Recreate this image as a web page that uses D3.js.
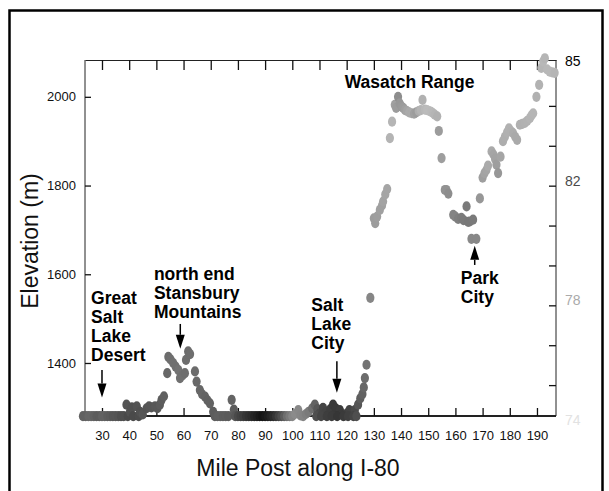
<!DOCTYPE html>
<html>
<head>
<meta charset="utf-8">
<script src="https://cdn.jsdelivr.net/npm/d3@7"></script>
<style>
  body { margin: 0; background: #fff; }
  svg text { font-family: "Liberation Sans", Arial, Helvetica, sans-serif; }
</style>
</head>
<body>
<div id="chart"></div>
<script>
// Mile post, elevation (m) and temperature (F) of each reading along I-80
var mileposts = [
    23, 24, 25, 26, 27, 28, 29, 30, 31, 32, 33, 34, 35, 36, 37, 38,
    39, 39.5, 40.3, 41, 41.5, 42.8, 43.5, 44, 45, 46.4, 47.3, 48.2, 49.5, 50.4, 51.3, 51.9, 52.8,
    54, 54.4, 55.2, 56.2, 57.1, 58.1, 58.7, 59.6, 60.5, 60.9, 61.7, 62.4, 64.2, 64.8, 66, 66.8, 67.9, 68.8, 69.7, 70.9,
    71.5, 72.5, 73.5, 74.5, 75.5, 76.5, 77.7, 78.5, 79, 80, 81, 82, 83, 84, 85, 86, 87, 88, 89,
    90, 91, 92, 93, 94, 95, 96, 97, 98, 99, 100,
    101, 102.2, 103, 104, 105, 106, 107.3, 108.3, 109.2, 110, 111.3, 112.2, 113, 114, 115, 116,
    117.5, 118.3, 119.2, 120, 121, 122, 123, 124.2,
    108.8, 110.6, 112.7, 114.5, 116.5, 118.8, 120.5, 122.5, 123.6,
    125, 125.8, 126.3, 126.7, 127.3, 128.7,
    130, 130.5, 131.2, 132.2, 133, 133.4, 134.2, 134.9, 135.9, 136.7, 137.7, 138.2, 138.9, 139.5,
    140.2, 140.8, 141.5, 142.2, 143, 143.9, 144.8, 145.6, 146.5, 147.3, 147.9, 148.8, 149.6,
    150.4, 151.1, 151.8, 152.4, 153.3, 153.9, 154.9, 156.1, 156.7, 157.4, 159.2,
    160, 161, 162.2, 163, 164.1, 164.7, 165.3, 166.5, 165.9, 167.7, 169,
    170, 170.7, 171.4, 172, 173.3, 174, 174.6, 175.1, 175.7, 176.6, 177.5, 178.2, 179, 179.7,
    180.5, 181.2, 182, 182.7, 183.7, 184.6, 185.5, 186.4, 187.4, 188, 188.6, 189.8,
    190.8, 191.6, 192.3, 192.9, 193.7, 194.7, 195.6, 196.5
];

var elevations = [
    1280, 1280, 1280, 1280, 1280, 1280, 1280, 1280, 1280, 1280, 1280, 1280, 1280, 1280, 1280, 1280,
    1306, 1280, 1290, 1300, 1280, 1302, 1280, 1290, 1284, 1298, 1302, 1300, 1302, 1298, 1306, 1317, 1325,
    1377, 1414, 1408, 1400, 1392, 1384, 1366, 1372, 1377, 1407, 1426, 1420, 1381, 1358, 1339, 1330, 1324, 1316, 1309, 1290,
    1280, 1280, 1280, 1280, 1280, 1280, 1317, 1295, 1280, 1280, 1280, 1280, 1280, 1280, 1280, 1280, 1280, 1280, 1280,
    1280, 1280, 1280, 1280, 1280, 1280, 1280, 1280, 1280, 1280, 1280,
    1285, 1294, 1282, 1280, 1285, 1290, 1298, 1306, 1296, 1286, 1299, 1288, 1282, 1296, 1306, 1298,
    1294, 1284, 1282, 1286, 1294, 1288, 1294, 1306,
    1280, 1280, 1280, 1280, 1280, 1280, 1280, 1280, 1280,
    1320, 1330, 1345, 1366, 1396, 1547,
    1726, 1715, 1730, 1745, 1755, 1764, 1780, 1792, 1907, 1944, 1982, 1975, 2000, 1985,
    1978, 1975, 1970, 1968, 1965, 1963, 1962, 1965, 1968, 1970, 1993, 1971, 1970,
    1968, 1966, 1963, 1960, 1956, 1923, 1862, 1790, 1790, 1782, 1734,
    1730, 1725, 1727, 1722, 1753, 1718, 1719, 1723, 1680, 1680, 1771,
    1818, 1828, 1835, 1845, 1877, 1870, 1860, 1847, 1828, 1865, 1900, 1910, 1920, 1929,
    1922, 1918, 1910, 1903, 1937, 1939, 1941, 1946, 1952, 1958, 1963, 2000,
    2027, 2065, 2080, 2087, 2062, 2057, 2055, 2054
];

var temperatures = [
    81.0, 81.0, 80.8, 80.8, 81.0, 81.2, 81.2, 81.0, 81.0, 81.2, 81.3, 81.5, 81.5, 81.6, 81.8, 81.8,
    81.6, 82.0, 81.7, 81.7, 82.0, 81.6, 81.9, 81.7, 81.5, 81.6, 81.5, 81.5, 81.4, 81.4, 81.3, 81.2, 81.1,
    80.8, 80.6, 80.5, 80.4, 80.4, 80.3, 80.4, 80.4, 80.5, 80.5, 80.6, 80.5, 80.6, 80.7, 80.8, 80.8, 80.9, 81.0, 81.0, 81.2,
    81.2, 81.1, 81.1, 81.2, 81.2, 81.3, 80.9, 81.2, 81.5, 82.0, 82.3, 82.5, 82.8, 83.0, 83.2, 83.5, 83.7, 84.0, 84.2,
    84.0, 83.8, 83.5, 83.2, 82.8, 82.3, 81.8, 81.2, 80.5, 80.0, 79.5,
    79.3, 79.4, 79.5, 79.6, 79.8, 80.0, 80.5, 81.0, 81.5, 82.0, 82.2, 82.3, 82.5, 82.5, 82.7, 82.7,
    82.6, 82.6, 82.5, 82.4, 82.3, 82.2, 82.0, 81.5,
    81.8, 82.2, 82.5, 82.6, 82.8, 82.6, 82.4, 82.2, 81.8,
    81.2, 81.0, 80.8, 80.6, 80.3, 79.5,
    78.6, 78.6, 78.5, 78.4, 78.4, 78.3, 78.2, 78.2, 77.3, 77.2, 78.4, 78.6, 79.2, 78.8,
    78.7, 78.6, 78.4, 78.2, 78.0, 78.0, 78.4, 78.6, 77.8, 77.3, 77.5, 77.0, 76.8,
    76.8, 76.9, 77.0, 77.2, 77.5, 78.6, 78.5, 79.0, 79.0, 79.2, 79.6,
    79.6, 79.8, 79.9, 80.0, 80.0, 80.1, 80.1, 80.0, 79.4, 79.4, 78.8,
    78.5, 78.3, 78.2, 78.0, 78.0, 78.2, 78.3, 78.5, 78.8, 78.2, 77.8, 77.7, 77.6, 77.5,
    77.6, 77.8, 78.0, 78.0, 77.6, 77.6, 77.5, 77.4, 77.3, 77.3, 77.2, 77.5,
    77.4, 77.2, 77.0, 77.2, 77.0, 77.0, 77.0, 77.2
];

// Axis ticks
var mileTicks = [30, 40, 50, 60, 70, 80, 90, 100, 110, 120, 130, 140, 150, 160, 170, 180, 190];
var elevationTicks = [1400, 1600, 1800, 2000];
var tempLabels = [74, 78, 82, 85];   // colour key on the right, every third tick

// Place names: text lines, position (mile, elevation) of first baseline
var placeNames = [
    { lines: ['Great', 'Salt', 'Lake', 'Desert'], mile: 26, elev: 1533 },
    { lines: ['north end', 'Stansbury', 'Mountains'], mile: 49.1, elev: 1587 },
    { lines: ['Salt', 'Lake', 'City'], mile: 107, elev: 1518 },
    { lines: ['Park', 'City'], mile: 162, elev: 1578 },
    { lines: ['Wasatch Range'], mile: 119.3, elev: 2020 }
];

// Arrows: from (mile, elev) to tip (mile, elev2)
var arrows = [
    { mile: 30, elev: 1384, elev2: 1322 },
    { mile: 58.8, elev: 1488, elev2: 1432 },
    { mile: 116.4, elev: 1404, elev2: 1333 },
    { mile: 167.1, elev: 1621, elev2: 1664 }
];

var width = 609, height = 491;
var plotLeft = 85, plotRight = 556, plotTop = 60, plotBottom = 416;

var svg = d3.select('#chart')
    .append('svg')
    .attr('width', width)
    .attr('height', height);

// outer frame
svg.append('rect')
    .attr('x', 9.5).attr('y', 10.5)
    .attr('width', 593).attr('height', 500)
    .attr('fill', 'none')
    .attr('stroke', '#000')
    .attr('stroke-width', 2.5);

var x = d3.scaleLinear().domain([23.75, 197]).range([plotLeft, plotRight]);
var y = d3.scaleLinear().domain([1280.5, 2083]).range([plotBottom, plotTop]);

// grey level stands for temperature, hot = dark
var color = d3.scaleLinear()
    .domain([74, 78, 82, 85])
    .range(['#e2e2e2', '#aaaaaa', '#4a4a4a', '#000000']);

// right hand key has 10 evenly spaced ticks
var keyScale = d3.scaleLinear().domain([0, 9]).range([425, 66]);

function styleAxis(g, w) {
    g.select('.domain').attr('stroke', '#222').attr('stroke-width', w);
    g.selectAll('.tick line').attr('stroke', '#111').attr('stroke-width', 1.3);
    g.selectAll('.tick text').attr('fill', '#111')
        .style('font-family', '"Liberation Sans", Arial, sans-serif');
}

// top axis, only ticks
svg.append('g')
    .attr('transform', 'translate(0,' + plotTop + ')')
    .call(d3.axisTop(x).tickValues(mileTicks).tickSizeInner(-10).tickSizeOuter(0).tickFormat(''))
    .call(styleAxis, 1);

// right axis, only ticks
svg.append('g')
    .attr('transform', 'translate(' + plotRight + ',0)')
    .call(d3.axisRight(keyScale).tickValues([1, 2, 3, 4, 5, 6, 7, 8]).tickSizeInner(-7).tickSizeOuter(0).tickFormat(''))
    .call(styleAxis, 1)
    .select('.domain').attr('d', 'M0,' + plotTop + 'V' + plotBottom);

svg.selectAll('.keyLabel')
    .data(tempLabels)
    .enter().append('text')
    .attr('class', 'keyLabel')
    .attr('x', plotRight + 9)
    .attr('y', function(d, i) { return keyScale(i * 3) - 5; })
    .attr('dy', '0.35em')
    .attr('font-size', 14)
    .attr('fill', function(d) { return color(d); })
    .text(function(d) { return d; });

// left axis
svg.append('g')
    .attr('transform', 'translate(' + plotLeft + ',0)')
    .call(d3.axisLeft(y).tickValues(elevationTicks).tickSizeInner(-6).tickSizeOuter(0).tickPadding(9).tickFormat(d3.format('d')))
    .call(styleAxis, 1)
    .call(function(g) {
        g.select('.domain').attr('d', 'M0,' + plotTop + 'V' + plotBottom);
        g.selectAll('.tick text').attr('font-size', 13);
    });

// bottom axis
svg.append('g')
    .attr('transform', 'translate(0,' + plotBottom + ')')
    .call(d3.axisBottom(x).tickValues(mileTicks).tickSizeInner(-8).tickSizeOuter(0).tickPadding(15))
    .call(styleAxis, 2.2)
    .call(function(g) {
        g.select('.domain').attr('d', 'M' + plotLeft + ',0H' + plotRight);
        g.selectAll('.tick text').attr('font-size', 13);
    });

// axis titles
svg.append('text')
    .attr('x', 298).attr('y', 476)
    .attr('text-anchor', 'middle')
    .attr('font-size', 23)
    .attr('fill', '#111')
    .text('Mile Post along I-80');

svg.append('text')
    .attr('transform', 'translate(38,241) rotate(-90)')
    .attr('text-anchor', 'middle')
    .attr('font-size', 23)
    .attr('fill', '#111')
    .text('Elevation (m)');

// readings
var readings = mileposts.map(function(m, i) {
    return { mile: m, elev: elevations[i], temp: temperatures[i] };
});

svg.append('g').selectAll('ellipse')
    .data(readings)
    .enter().append('ellipse')
    .attr('cx', function(d) { return x(d.mile); })
    .attr('cy', function(d) { return y(d.elev); })
    .attr('rx', 4.1)
    .attr('ry', 5.1)
    .attr('fill', function(d) { return color(d.temp); });

// place names
var names = svg.append('g')
    .attr('font-size', 17.5)
    .attr('font-weight', 'bold')
    .attr('fill', '#000');

placeNames.forEach(function(p) {
    var t = names.append('text')
        .attr('x', x(p.mile))
        .attr('y', y(p.elev));
    p.lines.forEach(function(line, i) {
        t.append('tspan')
            .attr('x', x(p.mile))
            .attr('dy', i === 0 ? 0 : 19)
            .text(line);
    });
});

// arrows
arrows.forEach(function(a) {
    var ax = x(a.mile), y0 = y(a.elev), y1 = y(a.elev2);
    var dir = y1 > y0 ? 1 : -1;
    var headLen = 14, headHalf = 4.5;
    svg.append('line')
        .attr('x1', ax).attr('x2', ax)
        .attr('y1', y0).attr('y2', y1 - dir * headLen)
        .attr('stroke', '#000')
        .attr('stroke-width', 1.5);
    svg.append('path')
        .attr('d', 'M' + (ax - headHalf) + ',' + (y1 - dir * headLen) +
            'L' + ax + ',' + y1 +
            'L' + (ax + headHalf) + ',' + (y1 - dir * headLen) + 'Z')
        .attr('fill', '#000');
});
</script>
</body>
</html>
